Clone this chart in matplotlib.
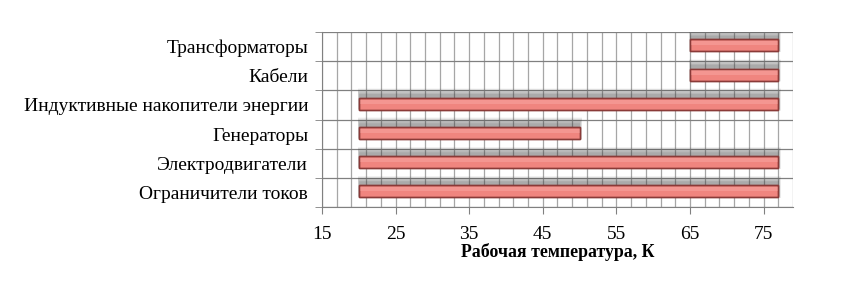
import matplotlib.pyplot as plt
import numpy as np

categories = ['Ограничители токов', 'Электродвигатели', 'Генераторы',
              'Индуктивные накопители энергии', 'Кабели', 'Трансформаторы']
t_min = [20, 20, 20, 20, 65, 65]
t_max = [77, 77, 50, 77, 77, 77]
xticks = [15, 25, 35, 45, 55, 65, 75]

plt.rcParams['font.family'] = ['Liberation Serif', 'DejaVu Serif']

fig = plt.figure(figsize=(8.42, 2.86), dpi=100)
ax = fig.add_axes([0.3824, 0.2762, 0.5594, 0.6118])

y = np.arange(len(categories))
widths = np.array(t_max) - np.array(t_min)
h = 0.41
yc = y + 0.04

# soft shadow, mostly above the bars
for k in range(1, 16):
    ext = 0.02 * k
    ax.barh(yc + 0.1 + ext * 0.15, widths + ext * 1.5, height=h + ext * 1.2,
            left=np.array(t_min) - ext * 0.3,
            color='#404040', alpha=0.035, linewidth=0, zorder=2)

ax.barh(yc, widths, height=h, left=t_min, color='#F0857F',
        edgecolor='#8A3A38', linewidth=1.0, zorder=3)
# lighter top strip
ax.barh(yc + h * 0.18, widths, height=h * 0.35, left=t_min, color='#F7A39E',
        linewidth=0, zorder=3.5, alpha=0.6)
ax.barh(yc, widths, height=h, left=t_min, facecolor='none',
        edgecolor='#8A3A38', linewidth=1.0, zorder=4)

ax.set_xlim(15, 79)
ax.set_ylim(-0.5, len(categories) - 0.5)
ax.set_xticks(xticks)
ax.set_xticks(np.arange(15, 80, 2), minor=True)
ax.set_yticks(y)
ax.set_yticklabels(categories, fontsize=14)
ax.set_yticks(np.arange(-0.5, len(categories), 1), minor=True)
ax.tick_params(axis='y', which='major', length=0, pad=10)
ax.tick_params(axis='y', which='minor', length=5, color='#808080', direction='out')
ax.tick_params(axis='x', which='major', length=5, color='#808080', direction='out', labelsize=14, pad=9)
ax.tick_params(axis='x', which='minor', length=0)

ax.grid(True, axis='x', which='both', color='#A6A6A6', linewidth=0.9, zorder=0)
ax.grid(True, axis='y', which='minor', color='#808080', linewidth=0.9, zorder=0)
ax.set_axisbelow(True)

for s in ['top', 'right']:
    ax.spines[s].set_visible(False)
ax.spines['left'].set_color('#808080')
ax.spines['bottom'].set_color('#808080')

ax.set_xlabel('Рабочая температура, К', fontsize=12.8, fontweight='bold', labelpad=0)

fig.savefig('out.png', dpi=100)
